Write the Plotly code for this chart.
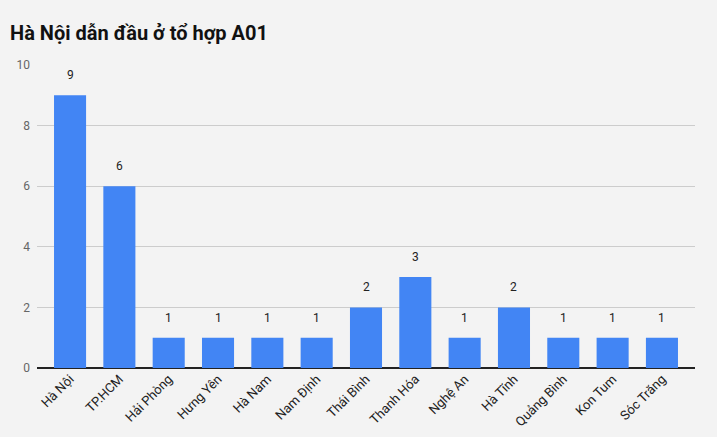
import plotly.graph_objects as go

categories = ["Hà Nội", "TP.HCM", "Hải Phòng", "Hưng Yên", "Hà Nam", "Nam Định",
              "Thái Bình", "Thanh Hóa", "Nghệ An", "Hà Tĩnh", "Quảng Bình", "Kon Tum", "Sóc Trăng"]
values = [9, 6, 1, 1, 1, 1, 2, 3, 1, 2, 1, 1, 1]
y_ticks = [0, 2, 4, 6, 8, 10]

fig = go.Figure()
fig.add_trace(go.Bar(x=list(range(len(categories))), y=values, marker_color="#4285f4",
                     marker_line_width=0))

for i, v in enumerate(values):
    fig.add_annotation(x=i, y=v, text=str(v), showarrow=False, yshift=20,
                       font=dict(family="Roboto", size=12, color="#222222"))

fig.update_layout(
    width=717, height=437,
    paper_bgcolor="#f3f3f3", plot_bgcolor="#f3f3f3",
    margin=dict(l=37, r=22, t=65, b=69),
    bargap=0.35,
    showlegend=False,
    title=dict(text="<b>Hà Nội dẫn đầu ở tổ hợp A01</b>", x=0.014, xanchor="left",
               y=0.925, yanchor="middle",
               font=dict(family="Roboto", size=20, color="#111111")),
    xaxis=dict(tickmode="array", tickvals=list(range(len(categories))), ticktext=categories,
               range=[-0.67, 12.67], tickangle=-45, showgrid=False, automargin=False,
               tickfont=dict(family="Roboto", size=13, color="#222222"), ticks=""),
    yaxis=dict(range=[0, 10], tickvals=y_ticks, gridcolor="#cccccc", gridwidth=1,
               zeroline=True, zerolinecolor="#222222", zerolinewidth=1.5, automargin=False,
               tickfont=dict(family="Roboto", size=12, color="#666666"), ticks="",
               ticklabelstandoff=6),
)
fig.write_html("out.html", config={"displayModeBar": False},
               post_script="document.body.style.margin='0';")
